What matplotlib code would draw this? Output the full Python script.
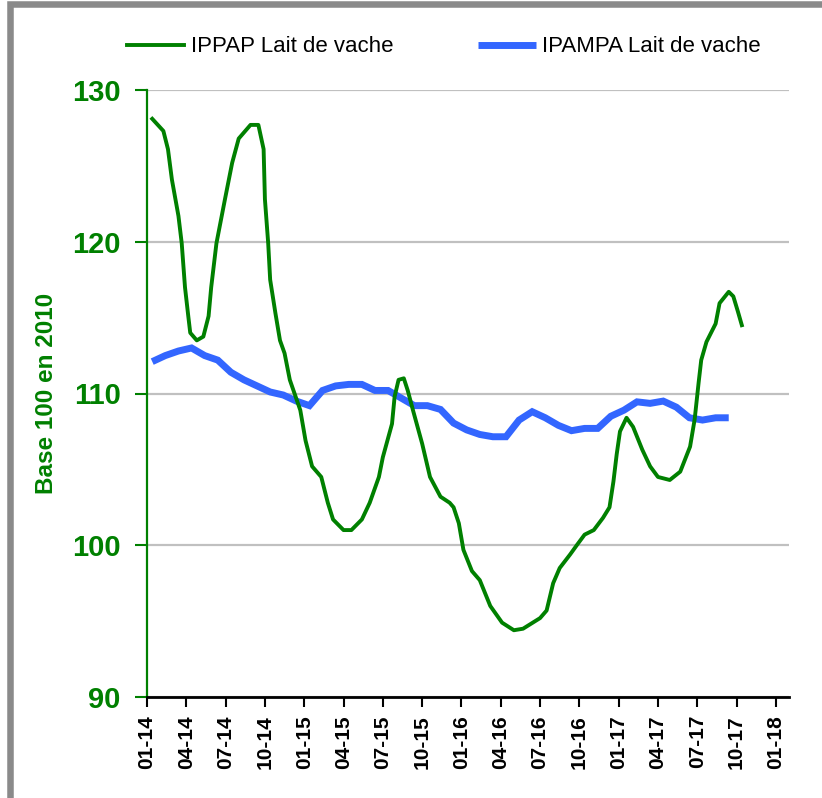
# Indices des prix du lait de vache (IPPAP / IPAMPA), base 100 en 2010

import numpy as np
import matplotlib
matplotlib.use("Agg")
import matplotlib.pyplot as plt
from matplotlib.patches import Rectangle

plt.rcParams['font.family'] = ['Liberation Sans', 'DejaVu Sans']

# month index: 0 = janvier 2014
ippap_t = [0.40, 1.25, 1.6, 1.9, 2.4, 2.65, 2.9, 3.15, 3.3, 3.8, 4.3, 4.7, 4.9,
           5.3, 5.95, 6.5, 7.0, 7.9, 8.5, 8.9, 9.0, 9.25, 9.4, 9.8, 10.15, 10.5,
           10.9, 11.7, 12.1, 12.6, 13.3, 13.8, 14.2, 15.0, 15.6, 16.4, 17.0,
           17.7, 18.0, 18.7, 18.9, 19.2, 19.6, 19.9, 20.3, 21.0, 21.6, 22.4,
           23.1, 23.4, 23.8, 24.15, 24.8, 25.4, 26.2, 27.1, 28.0, 28.7, 30.0,
           30.5, 31.0, 31.5, 32.3, 32.8, 33.4, 34.1, 34.8, 35.3, 35.6, 35.85,
           36.1, 36.6, 37.1, 37.8, 38.4, 39.0, 39.9, 40.7, 41.45, 41.8, 42.1,
           42.3, 42.7, 43.4, 43.7, 44.4, 44.75, 45.1, 45.4]
ippap_v = [128.1, 127.3, 126.1, 124.1, 121.7, 119.9, 117.0, 115.1, 114.0, 113.5,
           113.75, 115.1, 117.0, 119.9, 122.8, 125.2, 126.8, 127.7, 127.7, 126.1,
           122.8, 119.9, 117.5, 115.3, 113.5, 112.65, 110.9, 108.9, 106.9, 105.2,
           104.5, 102.8, 101.7, 101.0, 101.0, 101.7, 102.8, 104.5, 105.8, 108.0,
           109.8, 110.9, 111.0, 110.2, 108.9, 106.7, 104.5, 103.2, 102.8, 102.5,
           101.45, 99.7, 98.3, 97.7, 96.0, 94.9, 94.4, 94.5, 95.2, 95.7, 97.5,
           98.5, 99.4, 100.0, 100.7, 101.0, 101.8, 102.5, 104.2, 106.0, 107.5,
           108.4, 107.8, 106.3, 105.2, 104.5, 104.3, 104.85, 106.5, 108.3, 110.7,
           112.2, 113.4, 114.6, 115.95, 116.7, 116.4, 115.4, 114.5]

# IPAMPA, mensuel de janvier 2014 a septembre 2017
ipampa_v = [112.1, 112.5, 112.8, 113.0, 112.5, 112.2, 111.4, 110.9, 110.5, 110.1,
            109.9, 109.5, 109.2, 110.2, 110.5, 110.6, 110.6, 110.2, 110.2, 109.7,
            109.2, 109.2, 108.95, 108.05, 107.6, 107.3, 107.15, 107.15, 108.25,
            108.8, 108.4, 107.9, 107.55, 107.7, 107.7, 108.5, 108.9, 109.45,
            109.35, 109.5, 109.1, 108.4, 108.25, 108.4, 108.4]
ipampa_t = np.arange(len(ipampa_v)) + 0.4

tick_pos = np.arange(0, 49, 3)
tick_labels = ['01-14', '04-14', '07-14', '10-14', '01-15', '04-15', '07-15',
               '10-15', '01-16', '04-16', '07-16', '10-16', '01-17', '04-17',
               '07-17', '10-17', '01-18']

green = '#008000'
blue = '#3366ff'

fig = plt.figure(figsize=(8.22, 7.98), dpi=100)
ax = fig.add_axes([147/822, 101/798, 642/822, 607/798])

ax.plot(ipampa_t, ipampa_v, color=blue, lw=5, label='IPAMPA Lait de vache',
        solid_joinstyle='miter', solid_capstyle='butt', zorder=3)
ax.plot(ippap_t, ippap_v, color=green, lw=2.8, label='IPPAP Lait de vache', zorder=4)

ax.set_xlim(0, 49)
ax.set_ylim(90, 130)
ax.set_yticks([90, 100, 110, 120, 130])
ax.set_xticks(tick_pos)
ax.set_xticklabels(tick_labels, rotation=90, fontsize=15, fontweight='bold')
for lab in ax.get_yticklabels():
  lab.set_fontsize(21)
  lab.set_fontweight('bold')
  lab.set_color(green)

ax.tick_params(axis='y', direction='out', length=9, width=1.5, colors=green, pad=10)
ax.tick_params(axis='x', direction='out', length=7, width=1.5, colors='black', pad=6)

ax.grid(True, axis='y', color='#c0c0c0', lw=1.6)
ax.set_axisbelow(True)
for s in ['top', 'right']:
  ax.spines[s].set_visible(False)
ax.spines['left'].set_color(green)
ax.spines['left'].set_linewidth(1.6)
ax.spines['bottom'].set_color('black')
ax.spines['bottom'].set_linewidth(2)
ax.spines['bottom'].set_zorder(5)

ax.set_ylabel('Base 100 en 2010', color=green, fontsize=17.5, fontweight='bold', labelpad=10)

h, l = ax.get_legend_handles_labels()
fig.legend([h[1], h[0]], [l[1], l[0]], loc='center', bbox_to_anchor=(0.54, 1 - 47/798),
           ncol=2, frameon=False, fontsize=16, handlelength=2.6, handletextpad=0.3,
           columnspacing=3.8)

# grey frame around the chart area
fig.patches.append(Rectangle((10/822, -0.5), 2, 1.5 - 3.5/798, transform=fig.transFigure,
                             fill=False, edgecolor='#8a8a8a', lw=4.7))

fig.savefig('out.png', dpi=100)
